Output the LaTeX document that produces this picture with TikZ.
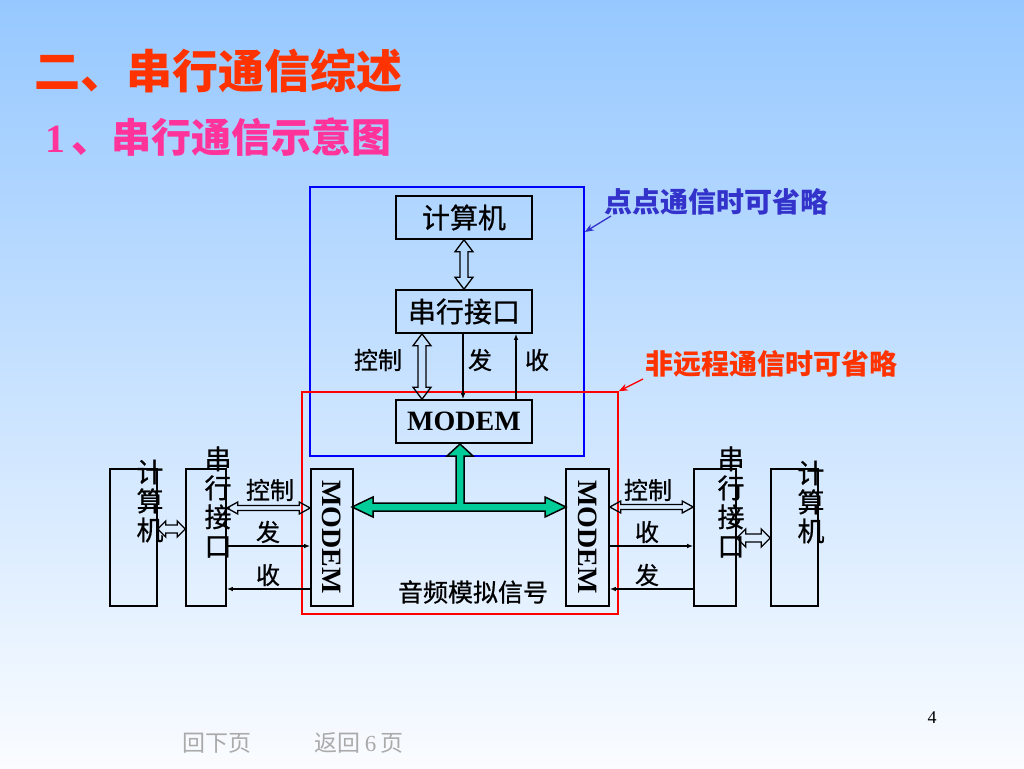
\documentclass[tikz,border=0pt]{standalone}
\usepackage{fontspec}
\setmainfont{Liberation Serif}
\newfontfamily\cjk{Noto Sans CJK SC}
\newfontfamily\cjkm{Noto Sans CJK SC}[FakeBold=0.7]
\usetikzlibrary{arrows.meta,calc}
\definecolor{bgtop}{RGB}{150,200,255}
\definecolor{bgbot}{RGB}{250,252,255}
\definecolor{titlered}{RGB}{255,51,0}
\definecolor{subpink}{RGB}{255,51,153}
\definecolor{annblue}{RGB}{51,51,204}
\definecolor{modgreen}{RGB}{0,204,153}
\definecolor{navgray}{RGB}{170,170,170}
% hollow double arrows: #1 start, #2 end, #3 half shaft, #4 half head, #5 head length
\newcommand{\hollowV}[5]{\draw[hollow] let \p1=#1, \p2=#2 in
  (\x1,\y1) -- (\x1+#4pt,\y1-#5pt) -- (\x1+#3pt,\y1-#5pt) -- (\x1+#3pt,\y2+#5pt) -- (\x1+#4pt,\y2+#5pt)
  -- (\x1,\y2) -- (\x1-#4pt,\y2+#5pt) -- (\x1-#3pt,\y2+#5pt) -- (\x1-#3pt,\y1-#5pt) -- (\x1-#4pt,\y1-#5pt) -- cycle;}
\newcommand{\hollowH}[5]{\draw[hollow] let \p1=#1, \p2=#2 in
  (\x1,\y1) -- (\x1+#5pt,\y1+#4pt) -- (\x1+#5pt,\y1+#3pt) -- (\x2-#5pt,\y1+#3pt) -- (\x2-#5pt,\y1+#4pt)
  -- (\x2,\y1) -- (\x2-#5pt,\y1-#4pt) -- (\x2-#5pt,\y1-#3pt) -- (\x1+#5pt,\y1-#3pt) -- (\x1+#5pt,\y1-#4pt) -- cycle;}
\begin{document}
\begin{tikzpicture}[x=1pt,y=-1pt,
  box/.style={draw=black, line width=1.6pt, inner sep=0pt, font=\cjkm\fontsize{28}{30}\selectfont},
  vbox/.style={draw=black, line width=1.6pt, inner sep=0pt, minimum height=137pt},
  vtext/.style={align=center, inner sep=0pt, font=\cjkm\fontsize{27}{29}\selectfont},
  lab/.style={inner sep=0pt, font=\cjkm\fontsize{24}{26}\selectfont},
  modtxt/.style={inner sep=0pt, rotate=-90, font=\bfseries\fontsize{28}{30}\selectfont},
  hollow/.style={draw=black, line width=1.3pt, line join=miter},
  sig/.style={draw=black, line width=1.2pt, -{Latex[length=6pt,width=4.5pt]}},
  frame/.style={line width=1.6pt, inner sep=0pt}
]
\useasboundingbox (0,0) rectangle (1024,768);
\shade[top color=bgtop, bottom color=bgbot] (0,0) rectangle (1024,768);

% titles
\node[anchor=west, inner sep=0pt, text=titlered, font=\cjk\bfseries\fontsize{46}{48}\selectfont] (title) at (34,71) {二、串行通信综述};
\node[anchor=west, inner sep=0pt, text=subpink, font=\fontsize{40}{42}\selectfont] (sub) at (45,137) {\textbf{1}\,{\cjk\bfseries 、串行通信示意图}};

% frames
\node[frame, draw=blue, minimum width=274pt, minimum height=269pt] (blueR) at (447,321.5) {};
\node[frame, draw=red, minimum width=316pt, minimum height=222pt] (redR) at (460,503) {};

% top column
\node[box, minimum width=136pt, minimum height=43pt] (pcT) at (464,217.5) {计算机};
\node[box, minimum width=136pt, minimum height=43pt] (serT) at (464,311.5) {串行接口};
\node[box, minimum width=136pt, minimum height=43pt, font=\bfseries\fontsize{28}{30}\selectfont] (modT) at (464,421.5) {MODEM};

\hollowV{(pcT.south)}{(serT.north)}{4}{9}{12}
\hollowV{(serT.south -| 422,0)}{(modT.north -| 422,0)}{4}{9}{12}
\draw[sig] (serT.south -| 463,0) -- (modT.north -| 463,0);
\draw[sig] (modT.north -| 516,0) -- (serT.south -| 516,0);
\node[lab] (lc1) at (378,360) {控制};
\node[lab] (lf1) at (480,360) {发};
\node[lab] (ls1) at (537,360) {收};

% bottom row boxes
\node[vbox, minimum width=47pt] (pcL) at (133.5,537.5) {};
\node[vbox, minimum width=40pt] (serL) at (206,537.5) {};
\node[vbox, minimum width=42pt] (modL) at (332,537.5) {};
\node[vbox, minimum width=43pt] (modR) at (587.5,537.5) {};
\node[vbox, minimum width=42pt] (serR) at (715,537.5) {};
\node[vbox, minimum width=47pt] (pcR) at (794.5,537.5) {};

\node[vtext] (pcLt) at (150,501) {计\\算\\机};
\node[vtext] (serLt) at (218,502) {串\\行\\接\\口};
\node[vtext] (serRt) at (731,502) {串\\行\\接\\口};
\node[vtext] (pcRt) at (811,502) {计\\算\\机};
\node[modtxt] (modLt) at (332,537) {MODEM};
\node[modtxt] (modRt) at (588,537) {MODEM};

% left links
\hollowH{(pcL.east |- 0,529)}{(serL.west |- 0,529)}{4}{8}{8}
\hollowH{(serL.east |- 0,508)}{(modL.west |- 0,508)}{2.5}{6}{11}
\draw[sig] (serL.east |- 0,546) -- (modL.west |- 0,546);
\draw[sig] (modL.west |- 0,589) -- (serL.east |- 0,589);
\node[lab] (lc2) at (270,490) {控制};
\node[lab] (lf2) at (268,532) {发};
\node[lab] (ls2) at (268,575) {收};

% right links
\hollowH{(modR.east |- 0,507)}{(serR.west |- 0,507)}{2.5}{6}{11}
\draw[sig] (modR.east |- 0,546) -- (serR.west |- 0,546);
\draw[sig] (serR.west |- 0,589) -- (modR.east |- 0,589);
\hollowH{(serR.east |- 0,538)}{(pcR.west |- 0,538)}{4}{9}{9}
\node[lab] (lc3) at (648,490) {控制};
\node[lab] (ls3) at (647,532) {收};
\node[lab] (lf3) at (647,575) {发};

% green T arrow
\draw[line width=1.5pt, fill=modgreen, line join=miter]
  (460,444) -- (473,456) -- (464,456) -- (464,503) -- (545,503) -- (545,497) -- (566,507)
  -- (545,517) -- (545,511) -- (373,511) -- (373,517) -- (352,507) -- (373,497) -- (373,503)
  -- (456,503) -- (456,456) -- (447,456) -- cycle;
\node[lab, font=\cjkm\fontsize{25}{27}\selectfont] (audio) at (473,592) {音频模拟信号};

% annotations
\node[anchor=west, inner sep=0pt, text=annblue, font=\cjk\bfseries\fontsize{28}{30}\selectfont] (ann1) at (604,202) {点点通信时可省略};
\node[anchor=west, inner sep=0pt, text=titlered, font=\cjk\bfseries\fontsize{28}{30}\selectfont] (ann2) at (645,364) {非远程通信时可省略};
\coordinate (a1s) at (611,216);
\coordinate (a2s) at (643,379);
\draw[annblue, line width=1.3pt, -{Stealth[length=9pt,width=7pt]}] (a1s) -- (blueR.east |- 0,232);
\draw[red, line width=1.3pt, -{Stealth[length=9pt,width=7pt]}] (a2s) -- (redR.north east);

% footer
\node[inner sep=0pt, font=\fontsize{18}{20}\selectfont] (pgno) at (932,718) {4};
\node[inner sep=0pt, text=navgray, font=\cjk\fontsize{23}{25}\selectfont] (nav1) at (217,743) {回下页};
\node[inner sep=0pt, text=navgray, font=\cjk\fontsize{23}{25}\selectfont] (nav2) at (359,743) {返回{\rmfamily\,6\,}页};
\end{tikzpicture}
\end{document}
